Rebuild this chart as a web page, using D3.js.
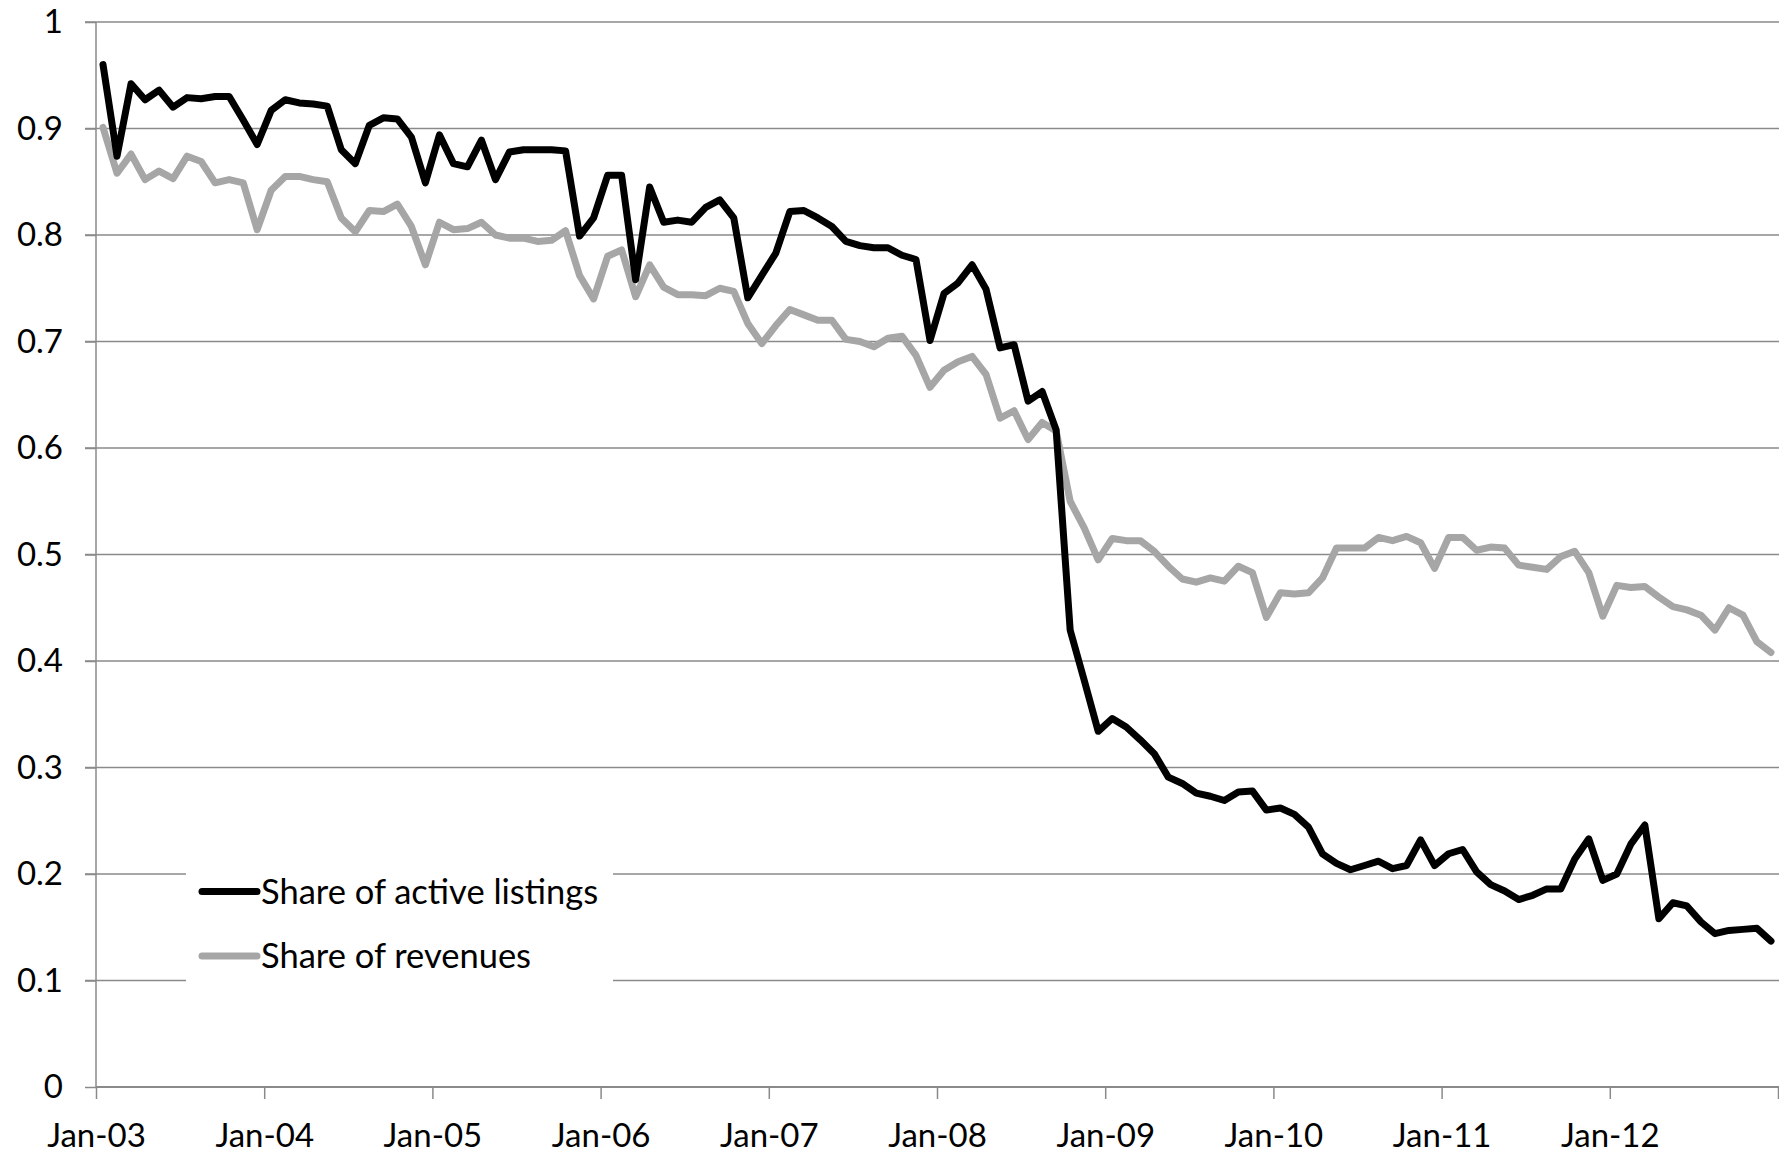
<!DOCTYPE html>
<html><head><meta charset="utf-8">
<script src="https://cdn.jsdelivr.net/npm/d3@7"></script>
<style>html,body{margin:0;padding:0;background:#fff;}svg{display:block;}</style>
</head><body>
<svg id="chart" width="1779" height="1153"></svg>
<script>
// Monthly observations, Jan-2003 .. Dec-2012 (index = months since Jan-03)
const seriesNames = ["Share of active listings", "Share of revenues"];
const tickLabels = ["Jan-03","Jan-04","Jan-05","Jan-06","Jan-07","Jan-08","Jan-09","Jan-10","Jan-11","Jan-12"];
const yTicks = [0,0.1,0.2,0.3,0.4,0.5,0.6,0.7,0.8,0.9,1];

const listings = [
0.960,0.874,0.942,0.927,0.936,0.920,0.929,0.928,0.930,0.930,0.908,0.885,
0.917,0.927,0.924,0.923,0.921,0.880,0.867,0.903,0.910,0.909,0.892,0.849,
0.894,0.867,0.864,0.889,0.852,0.878,0.880,0.880,0.880,0.879,0.799,0.816,
0.856,0.856,0.758,0.845,0.812,0.814,0.812,0.826,0.833,0.816,0.741,0.762,
0.783,0.822,0.823,0.816,0.808,0.794,0.790,0.788,0.788,0.781,0.777,0.701,
0.745,0.755,0.772,0.749,0.694,0.697,0.644,0.653,0.617,0.429,0.382,0.334,
0.346,0.338,0.326,0.313,0.291,0.285,0.276,0.273,0.269,0.277,0.278,0.260,
0.262,0.256,0.244,0.219,0.210,0.204,0.208,0.212,0.205,0.208,0.232,0.208,
0.219,0.223,0.202,0.190,0.184,0.176,0.180,0.186,0.186,0.214,0.233,0.194,
0.200,0.228,0.246,0.158,0.173,0.170,0.155,0.144,0.147,0.148,0.149,0.137];

const revenues = [
0.901,0.858,0.876,0.852,0.860,0.853,0.874,0.869,0.849,0.852,0.849,0.805,
0.842,0.855,0.855,0.852,0.850,0.816,0.803,0.823,0.822,0.829,0.808,0.772,
0.812,0.805,0.806,0.812,0.800,0.797,0.797,0.794,0.795,0.804,0.762,0.740,
0.780,0.786,0.742,0.772,0.751,0.744,0.744,0.743,0.750,0.747,0.717,0.698,
0.715,0.730,0.725,0.720,0.720,0.702,0.700,0.695,0.703,0.705,0.687,0.657,
0.673,0.681,0.686,0.669,0.628,0.635,0.608,0.624,0.616,0.550,0.525,0.495,
0.515,0.513,0.513,0.503,0.489,0.477,0.474,0.478,0.475,0.489,0.483,0.441,
0.464,0.463,0.464,0.478,0.506,0.506,0.506,0.516,0.513,0.517,0.511,0.487,
0.516,0.516,0.504,0.507,0.506,0.490,0.488,0.486,0.498,0.503,0.483,0.442,
0.471,0.469,0.470,0.460,0.451,0.448,0.443,0.429,0.450,0.443,0.418,0.408];

const colors = ["#000000", "#a6a6a6"];

const svg = d3.select("#chart");
const FONT = "Lato, 'Open Sans', sans-serif";
const FS = 33;
const LW = 7;

const x = d3.scaleLinear().domain([0, 120]).range([96, 1778]);
const y = d3.scaleLinear().domain([0, 1]).range([1087, 22]);
const gridColor = "#8a8a8a";

// gridlines
svg.append("g").selectAll("line").data(yTicks.filter(d => d > 0)).join("line")
  .attr("x1", 85).attr("x2", 1779)
  .attr("y1", d => y(d)).attr("y2", d => y(d))
  .attr("stroke", gridColor).attr("stroke-width", 1.5);

// y axis
const yAxis = d3.axisLeft(y).tickValues(yTicks).tickSize(11).tickPadding(22)
  .tickFormat(d => d === 0 || d === 1 ? String(d) : d3.format(".1f")(d));
const gy = svg.append("g").attr("transform", `translate(${x(0)},0)`).call(yAxis);
gy.select(".domain").attr("stroke", gridColor).attr("stroke-width", 1.5).attr("d", `M0,${y(1)}V${y(0)}`);
gy.selectAll(".tick line").attr("stroke", gridColor).attr("stroke-width", 1.5);
gy.selectAll(".tick text").attr("font-family", FONT).attr("font-size", FS).attr("fill", "#000");

// x axis
const xTickVals = d3.range(0, 121, 12);
const xAxis = d3.axisBottom(x).tickValues(xTickVals).tickSize(12).tickPadding(25)
  .tickFormat((d, i) => tickLabels[i] || "");
const gx = svg.append("g").attr("transform", `translate(0,${y(0)})`).call(xAxis);
gx.select(".domain").attr("stroke", gridColor).attr("stroke-width", 2.2).attr("d", `M${x(0)},0H1779`);
gx.selectAll(".tick line").attr("stroke", gridColor).attr("stroke-width", 1.5);
gx.selectAll(".tick text").attr("font-family", FONT).attr("font-size", FS).attr("fill", "#000");

// lines (revenues first, listings on top)
const line = d3.line().x((d, i) => x(i + 0.5)).y(d => y(d));
[[revenues, colors[1]], [listings, colors[0]]].forEach(([s, c]) => {
  svg.append("path").datum(s).attr("d", line)
    .attr("fill", "none").attr("stroke", c).attr("stroke-width", LW)
    .attr("stroke-linejoin", "round").attr("stroke-linecap", "round");
});

// legend
const lg = svg.append("g");
lg.append("rect").attr("x", 186).attr("y", 858).attr("width", 427).attr("height", 137).attr("fill", "#fff");
const legY = [891.5, 956];
seriesNames.forEach((n, k) => {
  lg.append("line").attr("x1", 202).attr("x2", 257).attr("y1", legY[k]).attr("y2", legY[k])
    .attr("stroke", colors[k]).attr("stroke-width", LW).attr("stroke-linecap", "round");
  lg.append("text").attr("x", 261).attr("y", legY[k]).attr("dy", "0.36em")
    .attr("font-family", FONT).attr("font-size", 34.5).attr("fill", "#000").text(n);
});
</script>
</body></html>
